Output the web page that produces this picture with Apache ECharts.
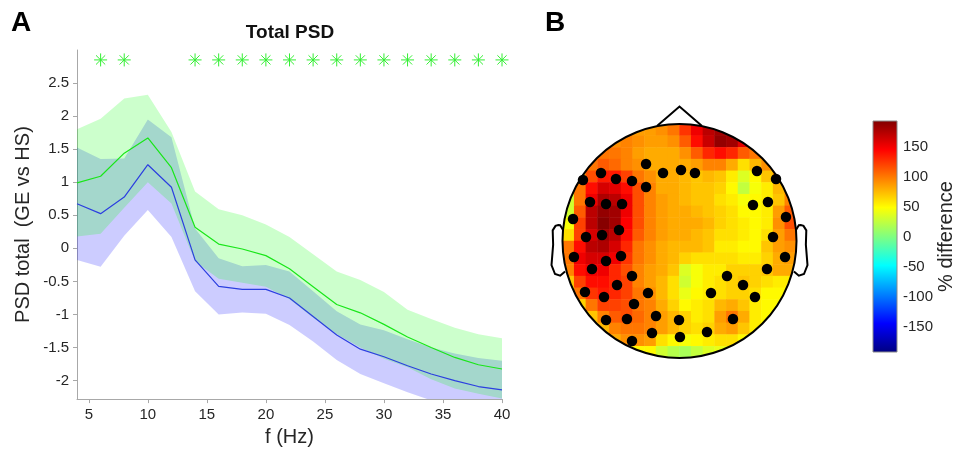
<!DOCTYPE html>
<html>
<head>
<meta charset="utf-8">
<script src="https://cdn.jsdelivr.net/npm/echarts@6/dist/echarts.min.js"></script>
<style>html,body{margin:0;padding:0;background:#fff}#c{width:961px;height:452px}</style>
</head>
<body>
<div id="c"></div>
<script>
// ---------- Panel A data ----------
const freqs = [4,6,8,10,12,14,16,18,20,22,24,26,28,30,32,34,36,38,40];
const greenMean  = [0.99,1.09,1.44,1.67,1.22,0.32,0.065,-0.01,-0.11,-0.31,-0.58,-0.85,-0.975,-1.15,-1.34,-1.5,-1.65,-1.76,-1.825];
const greenUpper = [1.8,1.96,2.265,2.325,1.76,0.86,0.59,0.5,0.36,0.17,-0.09,-0.35,-0.48,-0.66,-0.93,-1.07,-1.2,-1.3,-1.36];
const greenLower = [0.18,0.22,0.615,1.0,0.68,-0.2,-0.46,-0.52,-0.58,-0.77,-1.05,-1.3,-1.5,-1.67,-1.8,-1.98,-2.12,-2.2,-2.27];
const blueMean   = [0.675,0.525,0.775,1.265,0.925,-0.175,-0.575,-0.62,-0.62,-0.75,-1.03,-1.31,-1.525,-1.64,-1.775,-1.9,-2.0,-2.09,-2.14];
const blueUpper  = [1.525,1.35,1.36,1.95,1.68,0.3,-0.15,-0.27,-0.25,-0.35,-0.65,-0.95,-1.15,-1.24,-1.375,-1.5,-1.59,-1.66,-1.7];
const blueLower  = [-0.175,-0.28,0.19,0.58,0.17,-0.65,-1.0,-0.97,-0.99,-1.16,-1.41,-1.69,-1.9,-2.04,-2.175,-2.3,-2.41,-2.52,-2.58];
const sigFreqs = [6,8,14,16,18,20,22,24,26,28,30,32,34,36,38,40];
const sigLevel = 2.85;
const xTicks = [5,10,15,20,25,30,35,40];
const yTicks = [-2,-1.5,-1,-0.5,0,0.5,1,1.5,2,2.5];

// ---------- Panel B data ----------
// topographic map values (% difference), 20x20 cells, rows top->bottom, cols left->right
const heatRows = [
 [90,90,90,90,90,90,85,85,90,100,125,150,170,180,175,160,140,140,140,140],
 [90,90,90,90,90,95,90,85,85,90,110,140,165,185,180,155,125,110,110,110],
 [100,100,100,100,100,95,85,80,80,80,90,110,130,140,130,110,100,100,100,100],
 [100,100,100,110,105,95,90,80,80,80,80,85,95,95,80,60,75,90,90,90],
 [80,80,115,135,135,120,100,90,80,80,75,70,75,70,55,35,50,70,90,90],
 [60,100,140,160,155,140,115,95,80,80,75,70,70,65,50,25,45,55,75,90],
 [30,100,150,175,170,150,115,95,85,80,75,70,70,60,55,45,50,55,70,95],
 [30,110,170,185,180,150,115,95,85,80,80,75,70,65,60,50,50,55,85,110],
 [45,120,170,190,180,145,115,95,85,80,80,80,75,65,60,55,50,55,90,115],
 [60,120,160,180,170,140,110,95,85,80,80,75,70,60,60,55,50,60,85,100],
 [100,140,170,175,160,130,100,90,80,75,75,75,70,55,55,50,50,70,85,90],
 [100,150,160,160,150,125,100,90,80,75,65,60,60,60,60,55,55,65,80,85],
 [95,140,150,150,130,115,95,85,80,70,35,45,55,55,65,65,65,70,80,80],
 [70,120,140,140,130,120,95,85,75,60,30,45,55,60,65,70,65,60,55,55],
 [50,100,125,135,130,120,100,90,75,60,40,50,55,60,65,65,60,50,50,50],
 [60,65,100,120,120,115,100,95,80,65,50,55,60,75,80,70,55,50,50,50],
 [70,70,70,95,110,115,105,95,85,75,65,55,60,85,100,80,55,50,50,50],
 [75,75,75,75,95,100,100,95,85,75,65,60,65,80,85,70,55,50,50,50],
 [80,80,80,80,80,90,90,85,60,50,45,50,55,60,60,50,50,50,50,50],
 [50,50,50,50,50,50,50,50,30,20,15,25,35,40,40,40,40,40,40,40]
];
// electrode positions (head radius = 1)
const elecX = [-0.286,-0.141,0.013,0.132,-0.671,-0.825,-0.543,-0.406,-0.286,-0.765,-0.628,-0.491,-0.910,-0.799,-0.662,-0.517,
  0.662,0.825,0.628,0.756,0.910,0.799,-0.902,-0.748,-0.628,-0.500,-0.406,-0.534,-0.808,-0.645,-0.269,-0.389,-0.628,-0.449,
  -0.201,-0.004,-0.235,0.004,-0.406,0.902,0.748,0.406,0.543,0.269,0.645,0.457,0.235];
const elecY = [0.658,0.581,0.607,0.581,0.581,0.521,0.530,0.513,0.462,0.333,0.316,0.316,0.188,0.034,0.051,0.094,
  0.598,0.530,0.308,0.333,0.205,0.034,-0.137,-0.239,-0.171,-0.128,-0.299,-0.376,-0.436,-0.479,-0.444,-0.538,-0.675,-0.667,
  -0.641,-0.675,-0.786,-0.821,-0.855,-0.137,-0.239,-0.299,-0.376,-0.444,-0.479,-0.667,-0.778];
const cbarMin = -192.5, cbarMax = 192.5;
const cbarTicks = [-150,-100,-50,0,50,100,150];

// ---------- styles / geometry ----------
const FONT = "'Liberation Sans', Arial, sans-serif";
const TXT = '#262626';
const AXC = '#a8a8a8';
const jet = ['#000080','#0000ff','#0080ff','#00ffff','#80ff80','#ffff00','#ff8000','#ff0000','#800000'];
const noseX = [-0.19, 0, 0.19], noseY = [0.985, 1.15, 0.985];
const earX = [0.994,1.02,1.036,1.0598,1.0838,1.08,1.094,1.064,1.02,0.978];
const earY = [0.111,0.155,0.1566,0.1492,0.111,-0.011,-0.1864,-0.2626,-0.2768,-0.2398].map(v => v - 0.02);

const chart = echarts.init(document.getElementById('c'), null, {renderer: 'canvas'});

const nCols = heatRows[0].length, nRows = heatRows.length;
const heatData = [];
for (let j = 0; j < nRows; j++) for (let i = 0; i < nCols; i++) heatData.push([i, j, heatRows[j][i]]);
const idx = n => Array.from({length: n}, (_, k) => k);

function band(upper, lower, color) {
  return function (params, api) {
    const pts = [];
    for (let i = 0; i < freqs.length; i++) pts.push(api.coord([freqs[i], upper[i]]));
    for (let i = freqs.length - 1; i >= 0; i--) pts.push(api.coord([freqs[i], lower[i]]));
    return {type: 'polygon', shape: {points: pts}, style: {fill: color}, silent: true};
  };
}

const option = {
  animation: false,
  textStyle: {fontFamily: FONT},
  graphic: [
    {type: 'text', x: 290, y: 33, style: {text: 'Total PSD', font: 'bold 19px ' + FONT, fill: '#111', align: 'center', verticalAlign: 'middle'}},
    {type: 'text', x: 21, y: 23, style: {text: 'A', font: 'bold 28px ' + FONT, fill: '#000', align: 'center', verticalAlign: 'middle'}},
    {type: 'text', x: 555, y: 23, style: {text: 'B', font: 'bold 28px ' + FONT, fill: '#000', align: 'center', verticalAlign: 'middle'}}
  ],
  grid: [
    {left: 77, top: 50, width: 425, height: 352},
    {left: 562.5, top: 124, width: 234, height: 234},
    {left: 562.5, top: 124, width: 234, height: 234},
    {left: 873, top: 121, width: 24, height: 231}
  ],
  xAxis: [
    {gridIndex: 0, type: 'value', min: 4, max: 40,
      axisLine: {onZero: false, lineStyle: {color: AXC, width: 1}},
      axisTick: {customValues: xTicks, length: 4, lineStyle: {color: AXC}},
      axisLabel: {customValues: xTicks, fontSize: 15, color: TXT, margin: 8, fontFamily: FONT},
      splitLine: {show: false},
      name: 'f (Hz)', nameLocation: 'middle', nameGap: 24,
      nameTextStyle: {fontSize: 20, color: TXT, fontFamily: FONT}},
    {gridIndex: 1, type: 'category', data: idx(nCols), show: false},
    {gridIndex: 2, type: 'value', min: -1, max: 1, show: false},
    {gridIndex: 3, type: 'value', min: 0, max: 1, show: false}
  ],
  yAxis: [
    {gridIndex: 0, type: 'value', min: -2.28, max: 3.0,
      axisLine: {show: true, onZero: false, lineStyle: {color: AXC, width: 1}},
      axisTick: {show: true, customValues: yTicks, length: 4, lineStyle: {color: AXC}},
      axisLabel: {customValues: yTicks, fontSize: 15, color: TXT, margin: 8, fontFamily: FONT},
      splitLine: {show: false},
      name: 'PSD total  (GE vs HS)', nameLocation: 'middle', nameGap: 44, nameRotate: 90,
      nameTextStyle: {fontSize: 20, color: TXT, fontFamily: FONT}},
    {gridIndex: 1, type: 'category', data: idx(nRows), inverse: true, show: false},
    {gridIndex: 2, type: 'value', min: -1, max: 1, show: false},
    {gridIndex: 3, type: 'value', min: cbarMin, max: cbarMax, position: 'right',
      axisLine: {show: false, onZero: false},
      axisTick: {show: true, inside: true, length: 3, customValues: cbarTicks, lineStyle: {color: '#555'}},
      axisLabel: {customValues: cbarTicks, fontSize: 15, color: TXT, margin: 6, fontFamily: FONT},
      splitLine: {show: false},
      name: '% difference', nameLocation: 'middle', nameGap: 38, nameRotate: 90,
      nameTextStyle: {fontSize: 20, color: TXT, fontFamily: FONT}}
  ],
  visualMap: [{
    type: 'continuous', show: false, min: cbarMin, max: cbarMax, dimension: 2, seriesIndex: 6,
    inRange: {color: jet}
  }],
  series: [
    {type: 'custom', xAxisIndex: 0, yAxisIndex: 0, data: [[4, 0]], clip: true, z: 1,
      renderItem: band(blueUpper, blueLower, 'rgba(0,0,255,0.2)')},
    {type: 'custom', xAxisIndex: 0, yAxisIndex: 0, data: [[4, 0]], clip: true, z: 1,
      renderItem: band(greenUpper, greenLower, 'rgba(0,255,0,0.2)')},
    {type: 'line', xAxisIndex: 0, yAxisIndex: 0, showSymbol: false, clip: true, z: 3,
      data: freqs.map((f, i) => [f, blueMean[i]]), lineStyle: {color: '#2b3fe0', width: 1.2}},
    {type: 'line', xAxisIndex: 0, yAxisIndex: 0, showSymbol: false, clip: true, z: 3,
      data: freqs.map((f, i) => [f, greenMean[i]]), lineStyle: {color: '#19e619', width: 1.2}},
    {type: 'custom', xAxisIndex: 0, yAxisIndex: 0, z: 4,
      data: sigFreqs.map(f => [f, sigLevel]),
      renderItem: function (params, api) {
        const c = api.coord([api.value(0), api.value(1)]);
        const s = 6.5, d = s * 0.7071;
        const st = {stroke: '#33ee33', lineWidth: 1};
        return {type: 'group', children: [
          {type: 'line', shape: {x1: c[0] - s, y1: c[1], x2: c[0] + s, y2: c[1]}, style: st},
          {type: 'line', shape: {x1: c[0], y1: c[1] - s, x2: c[0], y2: c[1] + s}, style: st},
          {type: 'line', shape: {x1: c[0] - d, y1: c[1] - d, x2: c[0] + d, y2: c[1] + d}, style: st},
          {type: 'line', shape: {x1: c[0] - d, y1: c[1] + d, x2: c[0] + d, y2: c[1] - d}, style: st}
        ]};
      }},
    // colorbar
    {type: 'custom', xAxisIndex: 3, yAxisIndex: 3, data: [[0, 0]], z: 1,
      renderItem: function (params, api) {
        const p0 = api.coord([0, cbarMax]), p1 = api.coord([1, cbarMin]);
        return {type: 'rect', shape: {x: p0[0], y: p0[1], width: p1[0] - p0[0], height: p1[1] - p0[1]},
          style: {fill: new echarts.graphic.LinearGradient(0, 1, 0, 0, jet.map((c, k) => ({offset: k / (jet.length - 1), color: c}))),
            stroke: '#8a8a8a', lineWidth: 1}};
      }},
    // heatmap (index 6)
    {type: 'heatmap', xAxisIndex: 1, yAxisIndex: 1, data: heatData, z: 2, emphasis: {disabled: true}},
    // mask + head outline
    {type: 'custom', xAxisIndex: 2, yAxisIndex: 2, data: [[0, 0]], z: 3, silent: true,
      renderItem: function (params, api) {
        const c = api.coord([0, 0]);
        const r = api.size([1, 1])[0];
        const blk = {stroke: '#000', lineWidth: 2, fill: null};
        const ptsOf = (xs, ys, sgn) => xs.map((x, k) => api.coord([sgn * x, ys[k]]));
        return {type: 'group', children: [
          {type: 'circle', shape: {cx: c[0], cy: c[1], r: r * 1.23}, style: {fill: null, stroke: '#fff', lineWidth: r * 0.46}},
          {type: 'circle', shape: {cx: c[0], cy: c[1], r: r}, style: blk},
          {type: 'polyline', shape: {points: ptsOf(noseX, noseY, 1)}, style: blk},
          {type: 'polyline', shape: {points: ptsOf(earX, earY, -1)}, style: blk},
          {type: 'polyline', shape: {points: ptsOf(earX, earY, 1)}, style: blk}
        ]};
      }},
    // electrodes
    {type: 'scatter', xAxisIndex: 2, yAxisIndex: 2, z: 5, symbolSize: 10.5,
      itemStyle: {color: '#000', opacity: 1}, emphasis: {disabled: true},
      data: elecX.map((x, k) => [x, elecY[k]])}
  ]
};
chart.setOption(option);
</script>
</body>
</html>
